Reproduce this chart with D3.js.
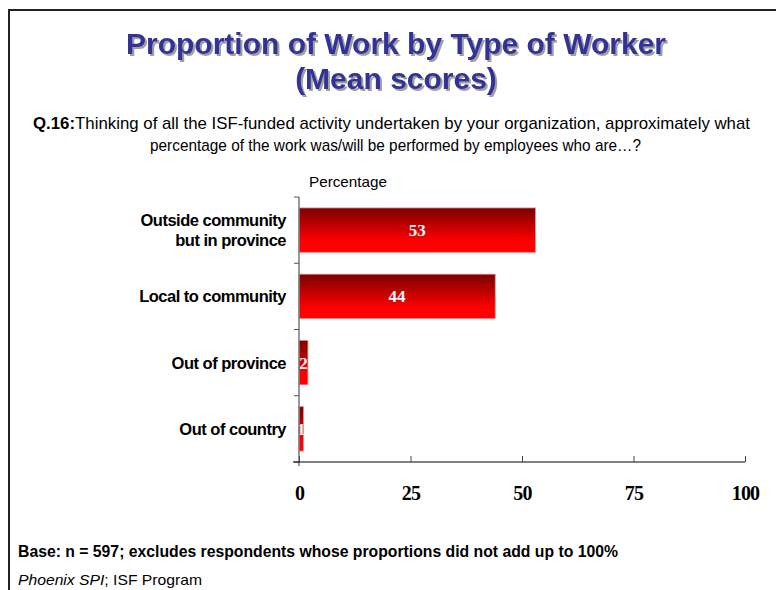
<!DOCTYPE html>
<html>
<head>
<meta charset="utf-8">
<script src="https://cdn.jsdelivr.net/npm/d3@7"></script>
<style>
  body { margin: 0; background: #fff; }
  svg { display: block; }
</style>
</head>
<body>
<div id="chart"></div>
<script>
// data
const categories = ["Outside community|but in province", "Local to community", "Out of province", "Out of country"];
const values = [53, 44, 2, 1];
const ticks = [0, 25, 50, 75, 100];

const width = 776, height = 590;

const svg = d3.select("#chart")
  .append("svg")
  .attr("width", width)
  .attr("height", height);

// frame
svg.append("path")
  .attr("d", "M9," + height + "V10H" + width)
  .attr("fill", "none")
  .attr("stroke", "#222")
  .attr("stroke-width", 2);

const defs = svg.append("defs");

// gradient for bars
const grad = defs.append("linearGradient")
  .attr("id", "barGrad")
  .attr("x1", 0).attr("y1", 0).attr("x2", 0).attr("y2", 1);
grad.append("stop").attr("offset", "0%").attr("stop-color", "#7a0000");
grad.append("stop").attr("offset", "75%").attr("stop-color", "#ff0000");
grad.append("stop").attr("offset", "100%").attr("stop-color", "#ff0000");

// drop shadow for the title
const shadow = defs.append("filter").attr("id", "shadow")
  .attr("x", "-5%").attr("y", "-20%").attr("width", "110%").attr("height", "140%");
shadow.append("feDropShadow")
  .attr("dx", 2).attr("dy", 2).attr("stdDeviation", 0.6)
  .attr("flood-color", "#888").attr("flood-opacity", 0.8);

// title
const title = svg.append("text")
  .attr("text-anchor", "middle")
  .attr("filter", "url(#shadow)")
  .style("font-family", "Liberation Sans, Arial, sans-serif")
  .style("font-weight", "bold")
  .style("font-size", "30px")
  .style("fill", "#333399");
title.append("tspan").attr("x", 396).attr("y", 54).text("Proportion of Work by Type of Worker");
title.append("tspan").attr("x", 396).attr("y", 89).text("(Mean scores)");

// question text
const q = svg.append("text")
  .attr("x", 33).attr("y", 129)
  .attr("textLength", 717)
  .attr("lengthAdjust", "spacingAndGlyphs")
  .style("font-family", "Liberation Sans Narrow, Arial Narrow, Liberation Sans, sans-serif")
  .style("font-size", "17px")
  .style("fill", "#000");
q.append("tspan").style("font-weight", "bold").text("Q.16:");
q.append("tspan").text("Thinking of all the ISF-funded activity undertaken by your organization, approximately what");
svg.append("text")
  .attr("x", 150).attr("y", 151)
  .attr("textLength", 491)
  .attr("lengthAdjust", "spacingAndGlyphs")
  .style("font-family", "Liberation Sans Narrow, Arial Narrow, Liberation Sans, sans-serif")
  .style("font-size", "17px")
  .text("percentage of the work was/will be performed by employees who are\u2026?");

svg.append("text")
  .attr("x", 309).attr("y", 187)
  .attr("textLength", 78)
  .attr("lengthAdjust", "spacingAndGlyphs")
  .style("font-family", "Liberation Sans Narrow, Arial Narrow, Liberation Sans, sans-serif")
  .style("font-size", "15px")
  .text("Percentage");

// scales
const x = d3.scaleLinear().domain([0, 100]).range([299, 745]);
const y = d3.scaleBand().domain(categories).range([197, 462])
  .paddingInner(0.33).paddingOuter(0.165);

// bars
svg.selectAll("rect.bar")
  .data(values)
  .enter()
  .append("rect")
  .attr("class", "bar")
  .attr("x", x(0))
  .attr("y", (d, i) => y(categories[i]))
  .attr("width", d => x(d) - x(0))
  .attr("height", y.bandwidth())
  .attr("fill", "url(#barGrad)")
  .attr("stroke", "#e89090")
  .attr("stroke-width", 0.8);

// bar value labels
svg.selectAll("text.val")
  .data(values)
  .enter()
  .append("text")
  .attr("class", "val")
  .attr("x", d => (x(0) + x(d)) / 2)
  .attr("y", (d, i) => y(categories[i]) + y.bandwidth() / 2 + 6)
  .attr("text-anchor", "middle")
  .style("font-family", "Liberation Serif, Times New Roman, serif")
  .style("font-weight", "bold")
  .style("font-size", "17px")
  .style("fill", "#f4f8ff")
  .text(d => d);

// y axis with ticks between categories
const yStep = y.step();
const yTop = 197;
const yAxis = svg.append("g");
yAxis.append("line")
  .attr("x1", x(0)).attr("x2", x(0))
  .attr("y1", yTop).attr("y2", 466)
  .attr("stroke", "#777").attr("stroke-width", 1.5);
d3.range(categories.length + 1).forEach(function (i) {
  yAxis.append("line")
    .attr("x1", x(0) - 5).attr("x2", x(0))
    .attr("y1", yTop + i * yStep).attr("y2", yTop + i * yStep)
    .attr("stroke", "#555").attr("stroke-width", 1);
});

// category labels
categories.forEach(function (c, i) {
  const parts = c.split("|");
  const cy = y(c) + y.bandwidth() / 2;
  const t = svg.append("text")
    .attr("x", 286)
    .attr("text-anchor", "end")
    .style("font-family", "Liberation Sans, Arial, sans-serif")
    .style("font-weight", "bold")
    .style("font-size", "16.5px")
    .style("letter-spacing", "-0.5px");
  parts.forEach(function (p, j) {
    t.append("tspan")
      .attr("x", 286)
      .attr("y", cy + 6 + (j - (parts.length - 1) / 2) * 20)
      .text(p);
  });
});

// x axis
const xAxis = d3.axisBottom(x).tickValues(ticks).tickSize(6).tickSizeOuter(0);
const gx = svg.append("g")
  .attr("transform", "translate(0,462)")
  .call(xAxis);
gx.select(".domain").attr("d", "M" + (x(0) - 6) + ",0H" + x(100)).attr("stroke", "#000");
gx.selectAll(".tick line").attr("y1", -6).attr("y2", 0).attr("stroke", "#444");
gx.selectAll(".tick text")
  .attr("y", 24)
  .style("font-family", "Liberation Serif, Times New Roman, serif")
  .style("font-weight", "bold")
  .style("font-size", "20px")
  .style("letter-spacing", "-0.8px")
  .style("fill", "#000");

// footnotes
svg.append("text")
  .attr("x", 18).attr("y", 557)
  .attr("textLength", 600)
  .attr("lengthAdjust", "spacingAndGlyphs")
  .style("font-family", "Liberation Sans, Arial, sans-serif")
  .style("font-weight", "bold")
  .style("font-size", "16px")
  .text("Base: n = 597; excludes respondents whose proportions did not add up to 100%");

const src = svg.append("text")
  .attr("x", 18).attr("y", 585)
  .attr("textLength", 184)
  .attr("lengthAdjust", "spacingAndGlyphs")
  .style("font-family", "Liberation Sans, Arial, sans-serif")
  .style("font-size", "15px");
src.append("tspan").style("font-style", "italic").text("Phoenix SPI");
src.append("tspan").text("; ISF Program");
</script>
</body>
</html>
